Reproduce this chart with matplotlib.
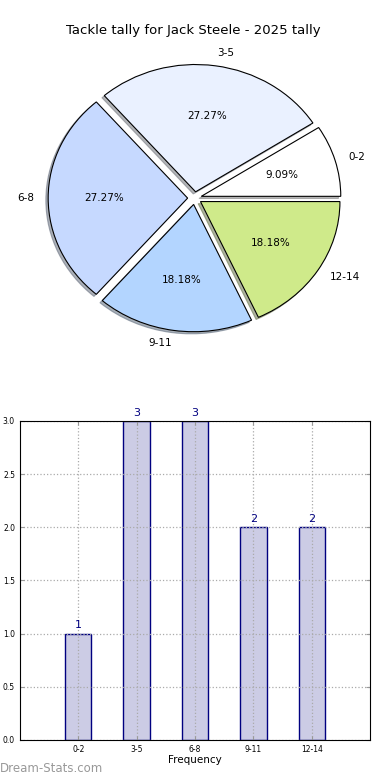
import numpy as np
import matplotlib
matplotlib.use('Agg')
import matplotlib.pyplot as plt

# tally data
categories = ['0-2', '3-5', '6-8', '9-11', '12-14']
counts = [1, 3, 3, 2, 2]
pie_colours = ['#ffffff', '#eaf1ff', '#c6d9ff', '#b3d5ff', '#cfea8a']
title_text = 'Tackle tally for Jack Steele - 2025 tally'

fig = plt.figure(figsize=(3.9, 7.8), dpi=100)

# pie on top
ax1 = fig.add_axes([0.052, 0.542, 0.894, 0.408])
explode = [0.05] * len(counts)
wedges, texts, autotexts = ax1.pie(counts, labels=categories, colors=pie_colours,
                                   explode=explode,
                                   shadow={'ox': -0.012, 'oy': -0.012, 'shade': 0.55},
                                   autopct='%1.2f%%',
                                   startangle=0, counterclock=True,
                                   wedgeprops={'edgecolor': 'black', 'linewidth': 0.8},
                                   textprops={'fontsize': 7.5})
ax1.set_aspect('auto')
ax1.set_xlim(-1.25, 1.25)
ax1.set_ylim(-1.25, 1.25)
fig.text(0.495, 0.961, title_text, ha='center', va='center', fontsize=9.5)

# bars underneath
ax2 = fig.add_axes([0.051, 0.0513, 0.898, 0.409])
x = np.arange(len(categories))
bars = ax2.bar(x, counts, width=0.45, color='#ccccE5', edgecolor='#000080', linewidth=1.0)
for xx, c in zip(x, counts):
    ax2.text(xx, c + 0.03, str(c), ha='center', va='bottom', color='#000080', fontsize=8)
ax2.set_xlim(-1, 5)
ax2.set_ylim(0, 3.0)
ax2.set_xticks(x)
ax2.set_xticklabels(categories, fontsize=5.5)
ax2.set_yticks(np.arange(0, 3.01, 0.5))
ax2.set_yticklabels(['%.1f' % v for v in np.arange(0, 3.01, 0.5)], fontsize=5.5)
ax2.tick_params(direction='in', top=True, right=True, length=3, color='#999999')
ax2.grid(True, linestyle=':', color='#aaaaaa', linewidth=0.9)
ax2.set_axisbelow(False)
for sp in ax2.spines.values():
    sp.set_zorder(5)
ax2.set_xlabel('Frequency', fontsize=7.5, labelpad=1)

fig.text(0.0, 0.006, 'Dream-Stats.com', color='#999999', fontsize=8.5, ha='left', va='bottom')

fig.savefig('out.png', dpi=100)
